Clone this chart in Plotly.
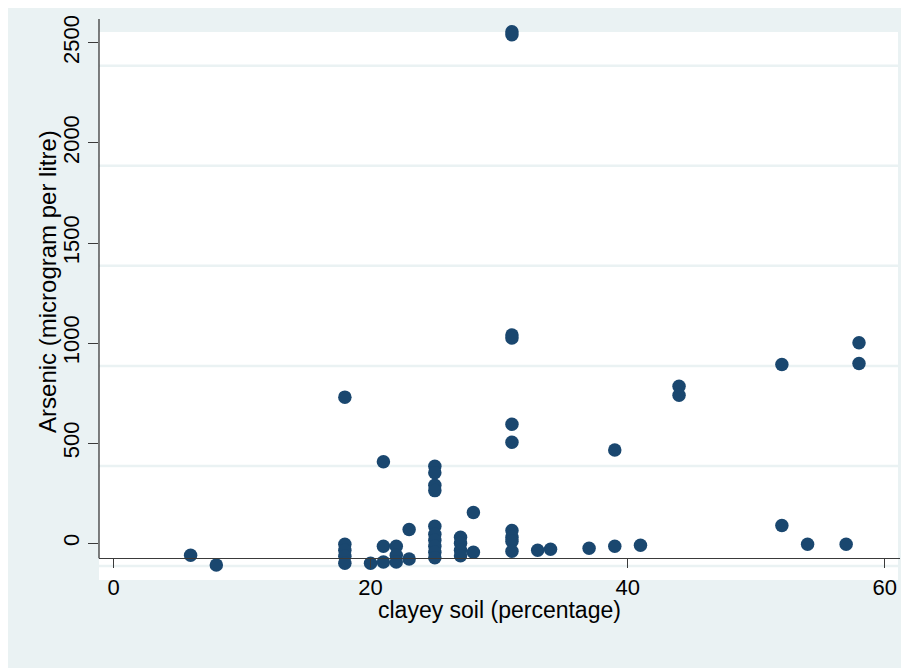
import plotly.graph_objects as go

# Data (clayey soil %, arsenic µg/L)
clay_pct = [6, 8,
            18, 18, 18, 18, 18,
            20,
            21, 21, 21,
            22, 22, 22,
            23, 23,
            25, 25, 25, 25, 25, 25, 25, 25, 25, 25,
            27, 27, 27, 27,
            28, 28,
            31, 31, 31, 31, 31, 31, 31, 31, 31, 31,
            33, 34, 37,
            39, 39,
            41,
            44, 44,
            52, 52,
            54, 57,
            58, 58]
arsenic = [-60, -109,
           730, -5, -35, -65, -100,
           -100,
           407, -15, -94,
           -15, -60, -94,
           69, -79,
           385, 352, 290, 263, 85, 45, 15, -15, -45, -72,
           30, 0, -35, -62,
           154, -45,
           2555, 2540, 1040, 1025, 595, 505, 64, 30, 10, -40,
           -35, -30, -25,
           466, -15,
           -10,
           784, 739,
           893, 89,
           -5, -5,
           1002, 898]

x_tick_vals = [0, 20, 40, 60]
y_tick_vals = [0, 500, 1000, 1500, 2000, 2500]
grid_y_vals = [-114, 386, 886, 1386, 1886, 2386]

x_title = "clayey soil (percentage)"
y_title = "Arsenic (microgram per litre)"

BG = "#eaf2f3"
NAVY = "#1a476f"
AX = "#3a3a3a"
FONT = "Liberation Sans, Arial, sans-serif"

X_AXIS_POS = 0.0389  # x axis line sits slightly above the bottom of the plot region

fig = go.Figure()
fig.add_trace(go.Scatter(
    x=clay_pct, y=arsenic, mode="markers",
    marker=dict(color=NAVY, size=13.5, line=dict(width=0)),
    cliponaxis=False, showlegend=False, hoverinfo="x+y"))

shapes = []
# light band at top of the plot region
shapes.append(dict(type="rect", xref="paper", yref="paper", x0=0, x1=1,
                   y0=0.977, y1=1.0, fillcolor=BG, line=dict(width=0), layer="below"))
# light strip at the right edge
shapes.append(dict(type="rect", xref="paper", yref="paper", x0=0.9975, x1=1.0,
                   y0=0, y1=1.0, fillcolor=BG, line=dict(width=0), layer="below"))
# horizontal light grid bands
for gv in grid_y_vals:
    shapes.append(dict(type="line", xref="paper", yref="y", x0=-0.0025, x1=0.9975,
                       y0=gv, y1=gv, line=dict(color=BG, width=2.5), layer="below"))
# y axis line (from the x axis up)
shapes.append(dict(type="line", xref="paper", yref="paper", x0=0, x1=0,
                   y0=X_AXIS_POS, y1=1.0, line=dict(color=AX, width=1.3), layer="above"))

annotations = [
    dict(text=x_title, xref="paper", yref="paper", x=0.5006, y=-0.053,
         xanchor="center", yanchor="middle", showarrow=False,
         font=dict(size=23, family=FONT, color="black")),
    dict(text=y_title, xref="paper", yref="paper", x=-0.0637, y=0.533,
         xanchor="center", yanchor="middle", showarrow=False, textangle=-90,
         font=dict(size=24, family=FONT, color="black")),
]

fig.update_layout(
    width=901, height=660,
    margin=dict(l=91, r=9, t=7, b=88, pad=0),
    paper_bgcolor=BG, plot_bgcolor="white",
    shapes=shapes, annotations=annotations,
    font=dict(family=FONT, color="black"),
    xaxis=dict(
        range=[-1.128, 61.19], tickmode="array", tickvals=x_tick_vals,
        anchor="free", position=X_AXIS_POS,
        showgrid=False, zeroline=False, showline=True, linecolor=AX, linewidth=1.3,
        ticks="outside", ticklen=9, tickwidth=1.3, tickcolor=AX,
        tickfont=dict(size=22, family=FONT),
    ),
    yaxis=dict(
        range=[-183.5, 2619], tickmode="array", tickvals=y_tick_vals,
        showgrid=False, zeroline=False, showline=False,
        ticks="outside", ticklen=10, tickwidth=1.3, tickcolor=AX, tickangle=-90,
        tickfont=dict(size=22, family=FONT),
    ),
)

fig.write_html("out.html")
